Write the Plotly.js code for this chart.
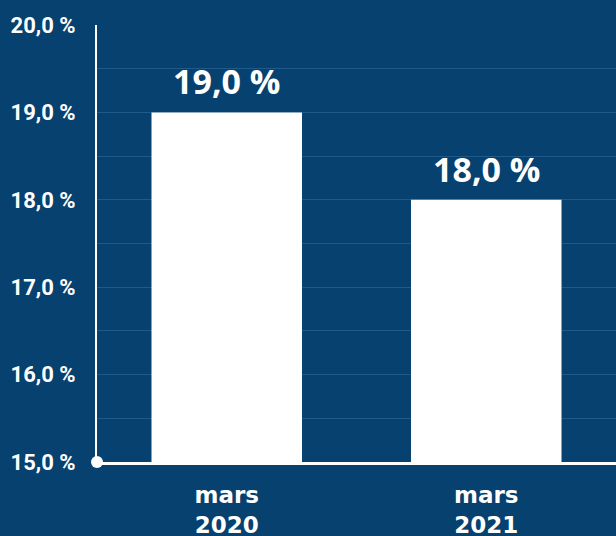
<!DOCTYPE html>
<html><head><meta charset="utf-8">
<script src="https://cdn.plot.ly/plotly-3.0.1.min.js"></script>
<style>html,body{margin:0;padding:0;background:#06416f;}#chart{width:616px;height:536px;}</style>
</head><body><div id="chart"></div>
<script>
const categories = ["mars<br>2020", "mars<br>2021"];
const values = [19.0, 18.0];
const valueLabels = ["19,0 %", "18,0 %"];
const tickValues = [15, 16, 17, 18, 19, 20];
const tickLabels = ["15,0 %", "16,0 %", "17,0 %", "18,0 %", "19,0 %", "20,0 %"];
const axisBase = 15;

const bg = "#06416f";
const trace = {
  type: "bar", x: categories, y: values.map(v => v - axisBase), base: axisBase,
  marker: {color: "#ffffff", line: {width: 0}},
  hoverinfo: "skip"
};

const annotations = categories.map((c, i) => ({
  x: c, y: values[i], xref: "x", yref: "y", text: valueLabels[i],
  showarrow: false, yanchor: "bottom", yshift: 6,
  font: {family: "Open Sans", size: 34, color: "#ffffff", weight: 700}
}));

const layout = {
  width: 616, height: 536,
  paper_bgcolor: bg, plot_bgcolor: bg,
  margin: {l: 97, r: 0, t: 25, b: 74},
  showlegend: false, bargap: 0.42,
  xaxis: {
    type: "category", showgrid: false, zeroline: false,
    showline: true, linecolor: "#ffffff", linewidth: 3,
    ticks: "", ticklabelstandoff: 10,
    tickfont: {family: "DejaVu Sans", size: 23, color: "#ffffff", weight: 700}
  },
  yaxis: {
    range: [15, 20],
    tickmode: "array", tickvals: tickValues, ticktext: tickLabels,
    showgrid: false, zeroline: false,
    showline: true, linecolor: "#ffffff", linewidth: 2,
    ticks: "", ticklabelstandoff: 15,
    tickfont: {family: "Roboto", size: 22, color: "#ffffff", weight: 700},
    minor: {dtick: 0.5, tick0: 15, showgrid: true, gridcolor: "#1f5a8b", gridwidth: 1}
  },
  annotations: annotations,
  shapes: [{
    type: "circle", xref: "paper", yref: "paper",
    xsizemode: "pixel", ysizemode: "pixel",
    xanchor: 0, yanchor: 0, x0: -6, x1: 6, y0: -6, y1: 6,
    fillcolor: "#ffffff", line: {width: 0}, layer: "above"
  }]
};
Plotly.newPlot("chart", [trace], layout, {displayModeBar: false, staticPlot: true});
</script></body></html>
